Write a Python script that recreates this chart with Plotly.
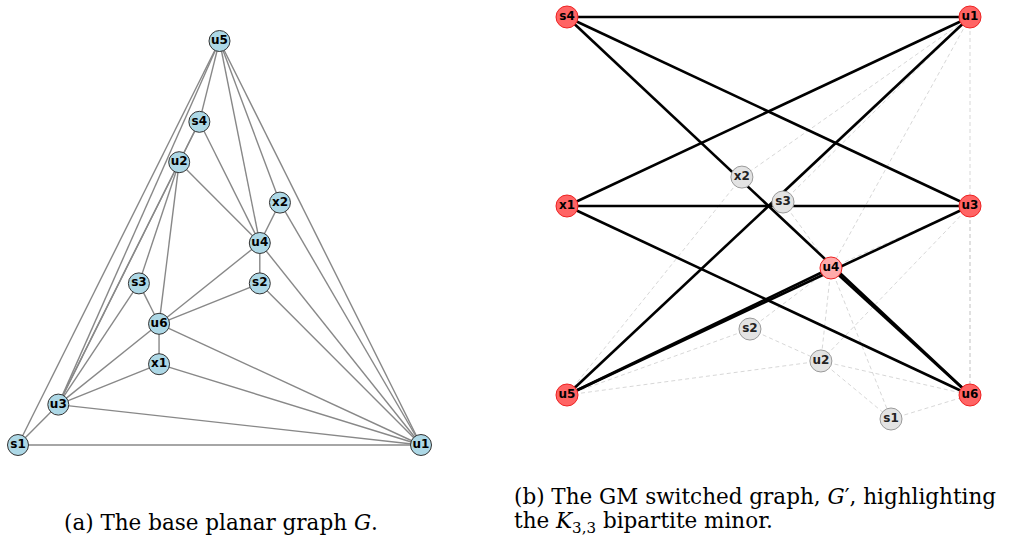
import plotly.graph_objects as go

# ---------------- Graph G (left) ----------------
g_nodes = ["u5", "s4", "u2", "x2", "u4", "s3", "s2", "u6", "x1", "u3", "s1", "u1"]
g_x = [10, 9, 8, 13, 12, 6, 12, 7, 7, 2, 0, 20]
g_y = [10, 8, 7, 6, 5, 4, 4, 3, 2, 1, 0, 0]
g_edges = [
    ("s1", "u1"), ("s1", "u5"), ("s1", "u3"), ("u3", "u1"), ("u3", "x1"),
    ("u3", "u6"), ("u3", "s3"), ("x1", "u6"), ("x1", "u1"), ("u6", "u1"),
    ("u6", "s3"), ("u6", "u2"), ("u6", "u4"), ("u6", "s2"), ("s2", "u4"),
    ("s2", "u1"), ("u4", "u1"), ("u4", "x2"), ("x2", "u1"), ("x2", "u5"),
    ("u5", "u1"), ("u5", "u4"), ("s4", "u4"), ("u2", "u4"), ("u5", "s4"),
    ("s4", "u2"), ("u3", "u5"), ("u2", "s3"), ("u3", "s4"), ("u3", "u2"),
]

# ---------------- Graph G' (right) ----------------
h_nodes = ["s4", "u1", "x1", "u3", "u5", "u6", "x2", "s3", "u4", "s2", "u2", "s1"]
h_x = [0.0, 1.0, 0.0, 1.0, 0.0, 1.0, 0.434, 0.536, 0.655, 0.454, 0.630, 0.804]
h_y = [1.0, 1.0, 0.0, 0.0, -1.0, -1.0, 0.153, 0.021, -0.328, -0.651, -0.82, -1.127]
h_role = ["minor", "minor", "minor", "minor", "minor", "minor",
          "other", "other", "branch", "other", "other", "other"]
minor_edges = [
    ("s4", "u1"), ("s4", "u3"), ("s4", "u6"), ("x1", "u1"), ("x1", "u3"),
    ("x1", "u6"), ("u5", "u1"), ("u5", "u3"), ("u5", "u4"), ("u4", "u6"),
]
other_edges = [
    ("u1", "x2"), ("u1", "u4"), ("u1", "u6"), ("u1", "s3"), ("x2", "u5"),
    ("s3", "u4"), ("u3", "u4"), ("u3", "u2"), ("u3", "u6"), ("u4", "s2"),
    ("u4", "u2"), ("u4", "s1"), ("s2", "u2"), ("s2", "u5"), ("u2", "u5"),
    ("u2", "u6"), ("u2", "s1"), ("s1", "u6"),
]

cap_a = "(a) The base planar graph <i>G</i>."
cap_b1 = "(b) The GM switched graph, <i>G</i>′, highlighting"
cap_b2 = "the <i>K</i><sub>3,3</sub> bipartite minor."


def seg(nodes, xs, ys, edges):
    pos = {n: (x, y) for n, x, y in zip(nodes, xs, ys)}
    ex, ey = [], []
    for a, b in edges:
        ex += [pos[a][0], pos[b][0], None]
        ey += [pos[a][1], pos[b][1], None]
    return ex, ey


fig = go.Figure()

ex, ey = seg(g_nodes, g_x, g_y, g_edges)
fig.add_trace(go.Scatter(x=ex, y=ey, mode="lines", line=dict(color="#888888", width=1.4),
                         hoverinfo="skip", xaxis="x", yaxis="y"))
fig.add_trace(go.Scatter(x=g_x, y=g_y, mode="markers+text", text=[f"<b>{n}</b>" for n in g_nodes],
                         textposition="middle center",
                         textfont=dict(family="DejaVu Sans", size=12, color="black"),
                         marker=dict(size=21, color="#ADD8E6", line=dict(color="#333333", width=1)),
                         xaxis="x", yaxis="y"))

ex, ey = seg(h_nodes, h_x, h_y, other_edges)
fig.add_trace(go.Scatter(x=ex, y=ey, mode="lines",
                         line=dict(color="#d3d3d3", width=0.9, dash="4px,3px"),
                         hoverinfo="skip", xaxis="x2", yaxis="y2"))
ex, ey = seg(h_nodes, h_x, h_y, minor_edges)
fig.add_trace(go.Scatter(x=ex, y=ey, mode="lines", line=dict(color="black", width=2.6),
                         hoverinfo="skip", xaxis="x2", yaxis="y2"))

fill = {"minor": "#ff6464", "branch": "#ffaaaa", "other": "#e3e3e3"}
edge = {"minor": "#ee2222", "branch": "#ee2222", "other": "#9a9a9a"}
fig.add_trace(go.Scatter(x=h_x, y=h_y, mode="markers+text", text=[f"<b>{n}</b>" for n in h_nodes],
                         textposition="middle center",
                         textfont=dict(family="DejaVu Sans", size=12,
                                       color=["black" if r != "other" else "#222222" for r in h_role]),
                         marker=dict(size=22, color=[fill[r] for r in h_role],
                                     line=dict(color=[edge[r] for r in h_role], width=1)),
                         xaxis="x2", yaxis="y2"))

W, H = 1026, 538
# left mapping: px = 18 + 20.15*u ; py = 445 - 40.4*v
lx = [(0 - 18) / 20.15, (513 - 18) / 20.15]
ly = [(445 - 538) / 40.4, 445 / 40.4]
# right mapping: px = 567 + 403*t ; py = 206 - 189*w
rx = [(513 - 567) / 403, (1026 - 567) / 403]
ry = [(206 - 538) / 189, 206 / 189]

ax = dict(visible=False, showgrid=False, zeroline=False, fixedrange=True)
fig.update_layout(
    width=W, height=H, autosize=False, showlegend=False,
    margin=dict(l=0, r=0, t=0, b=0),
    paper_bgcolor="white", plot_bgcolor="white",
    xaxis=dict(ax, domain=[0, 0.5], range=lx),
    yaxis=dict(ax, domain=[0, 1], range=ly),
    xaxis2=dict(ax, domain=[0.5, 1], range=rx),
    yaxis2=dict(ax, domain=[0, 1], range=ry, anchor="x2"),
    font=dict(family="DejaVu Serif"),
    hovermode=False,
)
serif = dict(family="DejaVu Serif", size=21.5, color="black")
fig.add_annotation(text=cap_a, xref="paper", yref="paper", x=62 / W, y=1 - 522 / H,
                   xanchor="left", yanchor="middle", showarrow=False, font=serif)
fig.add_annotation(text=cap_b1, xref="paper", yref="paper", x=512 / W, y=1 - 496 / H,
                   xanchor="left", yanchor="middle", showarrow=False, font=serif)
fig.add_annotation(text=cap_b2, xref="paper", yref="paper", x=512 / W, y=1 - 522 / H,
                   xanchor="left", yanchor="middle", showarrow=False, font=serif)

fig.write_html("out.html", config={"displayModeBar": False},
               post_script="document.body.style.margin='0';document.body.style.overflow='hidden';")
